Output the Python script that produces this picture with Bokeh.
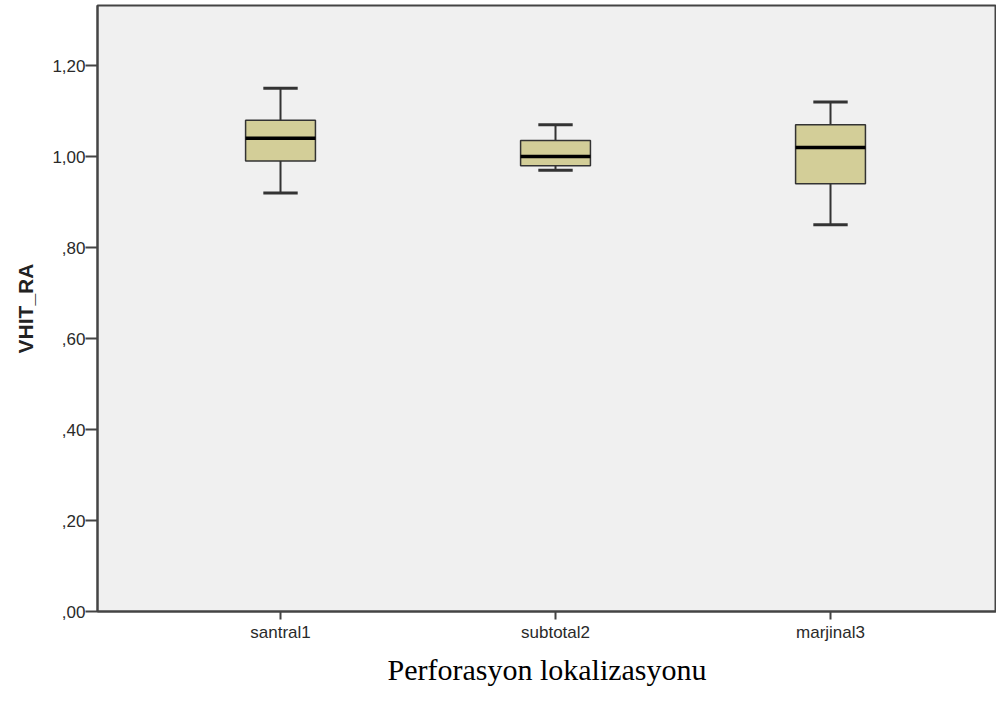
from bokeh.plotting import figure
from bokeh.models import Range1d, FixedTicker, CustomJSTickFormatter
from bokeh.embed import file_html
from bokeh.resources import INLINE

categories = ["santral1", "subtotal2", "marjinal3"]
lower_whisker = [0.92, 0.97, 0.85]
q1 = [0.99, 0.98, 0.94]
median = [1.04, 1.00, 1.02]
q3 = [1.08, 1.035, 1.07]
upper_whisker = [1.15, 1.07, 1.12]
y_ticks = [0.0, 0.2, 0.4, 0.6, 0.8, 1.0, 1.2]

xs = [i + 1 for i in range(len(categories))]

p = figure(frame_width=899, frame_height=606, output_backend="svg", toolbar_location=None,
           x_range=Range1d(0.3345, 3.6036), y_range=Range1d(0, 1.332),
           min_border_left=97, min_border_right=0, min_border_top=5, min_border_bottom=0)

p.background_fill_color = "#F0F0F0"
p.border_fill_color = "white"
p.outline_line_color = "#444444"
p.outline_line_width = 2
p.xgrid.grid_line_color = None
p.ygrid.grid_line_color = None

box_w = 0.254
cap_w = 0.125
line_c = "#333333"

# whiskers
p.segment(xs, q3, xs, upper_whisker, line_color=line_c, line_width=2)
p.segment(xs, q1, xs, lower_whisker, line_color=line_c, line_width=2)
# caps
p.segment([x - cap_w / 2 for x in xs], upper_whisker, [x + cap_w / 2 for x in xs], upper_whisker,
          line_color=line_c, line_width=3)
p.segment([x - cap_w / 2 for x in xs], lower_whisker, [x + cap_w / 2 for x in xs], lower_whisker,
          line_color=line_c, line_width=3)
# boxes
p.vbar(x=xs, width=box_w, bottom=q1, top=q3, fill_color="#D3CE98", line_color=line_c, line_width=1.5)
# median
p.segment([x - box_w / 2 for x in xs], median, [x + box_w / 2 for x in xs], median,
          line_color="black", line_width=3.5)

# x axis
xa = p.xaxis[0]
xa.ticker = FixedTicker(ticks=xs)
xa.major_label_overrides = {x: c for x, c in zip(xs, categories)}
xa.minor_tick_line_color = None
xa.major_tick_in = 0
xa.major_tick_out = 8
xa.axis_line_color = "#444444"
xa.axis_line_width = 2
xa.major_tick_line_color = "#444444"
xa.major_tick_line_width = 2
xa.major_label_text_font = "Liberation Sans"
xa.major_label_text_font_size = "17px"
xa.major_label_text_color = "#2a2a2a"
xa.major_label_standoff = 3
xa.axis_label = "Perforasyon lokalizasyonu"
xa.axis_label_text_font = "Liberation Serif"
xa.axis_label_text_font_style = "normal"
xa.axis_label_text_font_size = "30px"
xa.axis_label_text_color = "black"
xa.axis_label_standoff = 8

# y axis
ya = p.yaxis[0]
ya.ticker = FixedTicker(ticks=y_ticks)
ya.formatter = CustomJSTickFormatter(code="""
const s = tick.toFixed(2).replace('.', ',');
return s.startsWith('0') ? s.slice(1) : s;
""")
ya.minor_tick_line_color = None
ya.major_tick_in = 0
ya.major_tick_out = 12
ya.axis_line_color = "#444444"
ya.axis_line_width = 2
ya.major_tick_line_color = "#444444"
ya.major_tick_line_width = 2
ya.major_label_text_font = "Liberation Sans"
ya.major_label_text_font_size = "17px"
ya.major_label_text_color = "#2a2a2a"
ya.major_label_standoff = 0
ya.axis_label = "VHIT_RA"
ya.axis_label_text_font = "Liberation Sans"
ya.axis_label_text_font_style = "bold"
ya.axis_label_text_font_size = "21px"
ya.axis_label_text_color = "#222222"
ya.axis_label_standoff = 12

open("out.html", "w").write(file_html(p, INLINE))
